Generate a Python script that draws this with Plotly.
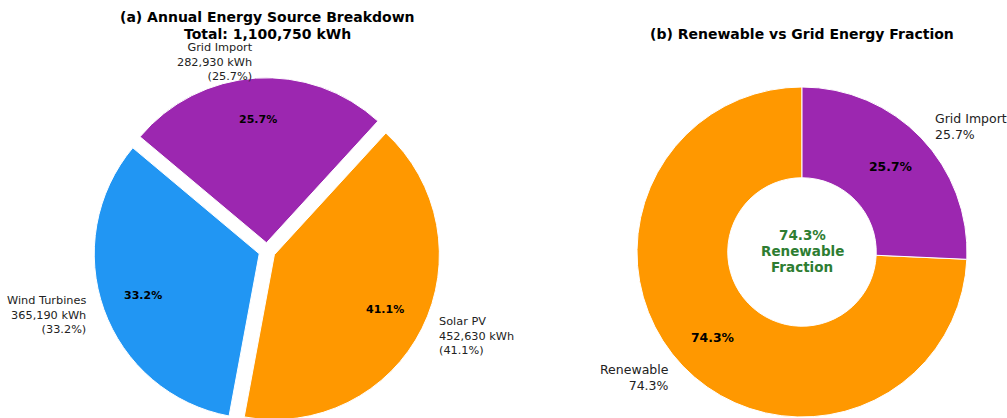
import math
import plotly.graph_objects as go

# ---- data ----
sources = ["Solar PV", "Wind Turbines", "Grid Import"]
energy_kwh = [452630, 365190, 282930]
source_colors = ["#FF9800", "#2196F3", "#9C27B0"]

fraction_labels = ["Renewable", "Grid Import"]
fraction_colors = ["#FF9800", "#9C27B0"]

total_kwh = sum(energy_kwh)
renewable_kwh = energy_kwh[0] + energy_kwh[1]
grid_kwh = energy_kwh[2]
fraction_values = [renewable_kwh, grid_kwh]
renewable_pct = 100.0 * renewable_kwh / total_kwh

# ---- layout constants ----
W, H = 1007, 430   # page is 418 tall; the pies run slightly past the bottom edge
FONT = "DejaVu Sans"

L_CX, L_CY, L_R, L_PULL, L_START = 267, 251, 165, 0.05, 47.5
R_CX, R_CY, R_R, R_HOLE, R_START = 802, 252, 165, 0.45, 90.0


def px(x):
    return x / W


def py(y):
    return 1 - y / H


def clamp(v):
    return max(0.0, min(1.0, v))


fig = go.Figure()

# left pie (clockwise, first slice starting at L_START degrees, math convention)
half = L_R * (1 + L_PULL)
fig.add_trace(go.Pie(
    labels=sources, values=energy_kwh, sort=False, direction="clockwise",
    rotation=90 - L_START, pull=[L_PULL] * len(sources),
    marker=dict(colors=source_colors, line=dict(color="white", width=1)),
    textinfo="none", hoverinfo="label+value+percent", showlegend=False,
    domain=dict(x=[clamp(px(L_CX - half)), clamp(px(L_CX + half))],
                y=[clamp(py(L_CY + half)), clamp(py(L_CY - half))]),
))

# right donut: Renewable counterclockwise from 12 o'clock (drawn clockwise from its end)
grid_frac_deg = 360.0 * grid_kwh / total_kwh
fig.add_trace(go.Pie(
    labels=fraction_labels, values=fraction_values, sort=False,
    direction="clockwise", rotation=grid_frac_deg, hole=R_HOLE,
    marker=dict(colors=fraction_colors, line=dict(color="white", width=1)),
    textinfo="none", hoverinfo="label+value+percent", showlegend=False,
    domain=dict(x=[clamp(px(R_CX - R_R)), clamp(px(R_CX + R_R))],
                y=[clamp(py(R_CY + R_R)), clamp(py(R_CY - R_R))]),
))

annotations = []


def ann(x, y, text, size, xanchor="center", bold=False, color="#222222"):
    annotations.append(dict(
        x=px(x), y=py(y), xref="paper", yref="paper", text=text, showarrow=False,
        xanchor=xanchor, yanchor="middle", align=xanchor,
        font=dict(family=FONT, size=size, color=color, weight="bold" if bold else "normal"),
    ))


# left pie labels
cum = 0
for name, v in zip(sources, energy_kwh):
    mid = L_START - (cum + v / 2) / total_kwh * 360
    cum += v
    c, s = math.cos(math.radians(mid)), math.sin(math.radians(mid))
    pct = 100.0 * v / total_kwh
    d_in = (0.75 + L_PULL) * L_R
    ann(L_CX + d_in * c, L_CY - d_in * s, f"{pct:.1f}%", 11, bold=True, color="black")
    d_out = (1.1 + L_PULL) * L_R
    side = "left" if c > 0 else "right"
    ann(L_CX + d_out * c, L_CY - d_out * s,
        f"{name}<br>{v:,} kWh<br>({pct:.1f}%)", 11.3, xanchor=side)

# right donut labels (counterclockwise from 12 o'clock)
cum = 0
for name, v in zip(fraction_labels, fraction_values):
    mid = R_START + (cum + v / 2) / total_kwh * 360
    cum += v
    c, s = math.cos(math.radians(mid)), math.sin(math.radians(mid))
    pct = 100.0 * v / total_kwh
    d_in = 0.75 * R_R
    ann(R_CX + d_in * c, R_CY - d_in * s, f"{pct:.1f}%", 12.4, bold=True, color="black")
    d_out = 1.1 * R_R
    side = "left" if c > 0 else "right"
    ann(R_CX + d_out * c, R_CY - d_out * s, f"{name}<br>{pct:.1f}%", 12.5, xanchor=side)

# center text
for i, line in enumerate([f"{renewable_pct:.1f}%", "Renewable", "Fraction"]):
    ann(R_CX, R_CY - 17 + 16 * i, line, 13.5, bold=True, color="#2E7D32")

# titles
ann(L_CX, 17, "(a) Annual Energy Source Breakdown", 14, bold=True, color="black")
ann(L_CX, 34, f"Total: {total_kwh:,} kWh", 14, bold=True, color="black")
ann(R_CX, 34, "(b) Renewable vs Grid Energy Fraction", 14, bold=True, color="black")

fig.update_layout(
    width=W, height=H, margin=dict(l=0, r=0, t=0, b=0),
    paper_bgcolor="white", plot_bgcolor="white",
    annotations=annotations, font=dict(family=FONT),
)

fig.write_html(
    "out.html",
    config={"displayModeBar": False},
    post_script="document.body.style.margin='0';document.body.style.overflow='hidden';",
)
